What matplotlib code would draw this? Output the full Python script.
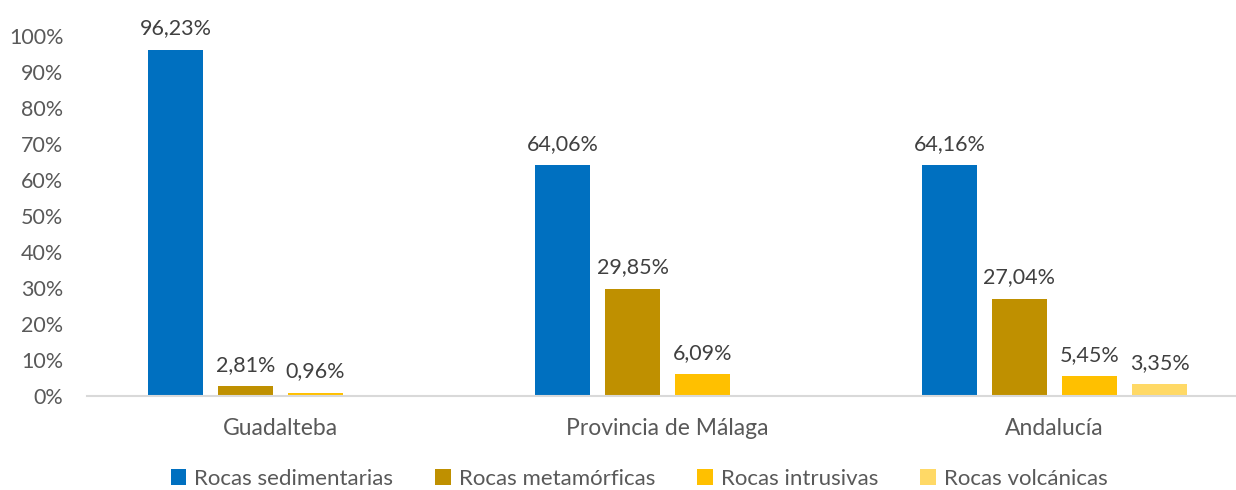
import numpy as np
import matplotlib
matplotlib.use("Agg")
import matplotlib.pyplot as plt
from matplotlib.patches import Patch

categories = ["Guadalteba", "Provincia de Málaga", "Andalucía"]
series_names = ["Rocas sedimentarias", "Rocas metamórficas", "Rocas intrusivas", "Rocas volcánicas"]
sedimentarias = [96.23, 64.06, 64.16]
metamorficas = [2.81, 29.85, 27.04]
intrusivas = [0.96, 6.09, 5.45]
volcanicas = [np.nan, np.nan, 3.35]
yticks = [0, 10, 20, 30, 40, 50, 60, 70, 80, 90, 100]

colors = ["#0070C0", "#BF9000", "#FFC000", "#FFD966"]
series = [sedimentarias, metamorficas, intrusivas, volcanicas]

plt.rcParams['font.family'] = ['Lato', 'DejaVu Sans']

W, H = 1236, 490
fig = plt.figure(figsize=(W / 100, H / 100), dpi=100)
ax = fig.add_axes([87 / W, (H - 396) / H, 1161 / W, 360 / H])

x = np.arange(len(categories))
slot = 70 / 387
bw = 55 / 387
for i, (vals, c) in enumerate(zip(series, colors)):
    pos = x + (i - 1.5) * slot
    v = np.array(vals, dtype=float)
    ax.bar(pos, v, width=bw, color=c, zorder=2)
    for px, pv in zip(pos, v):
        if np.isnan(pv):
            continue
        lbl = f"{pv:.2f}".replace('.', ',') + '%'
        ax.annotate(lbl, (px, pv), xytext=(0, 8), textcoords='offset points',
                    ha='center', va='bottom', fontsize=15.5, color='#404040',
                    annotation_clip=False)

ax.set_xlim(-0.5, 2.5)
ax.set_ylim(0, 100)
ax.set_yticks(yticks)
ax.set_yticklabels([f"{t}%" for t in yticks])
ax.set_xticks(x)
ax.set_xticklabels(categories)
ax.tick_params(axis='y', length=0, pad=17, labelsize=15.5, labelcolor='#595959')
ax.tick_params(axis='x', length=0, pad=16, labelsize=16.5, labelcolor='#595959')
for s in ['top', 'right', 'left']:
    ax.spines[s].set_visible(False)
ax.spines['bottom'].set_color('#D9D9D9')
ax.spines['bottom'].set_linewidth(1.5)

handles = [Patch(facecolor=c, edgecolor='none') for c in colors]
leg = fig.legend(handles, series_names, loc='center', bbox_to_anchor=(639 / W, (H - 479) / H),
                 ncol=4, frameon=False, fontsize=16, handlelength=0.7, handleheight=0.7,
                 handletextpad=0.35, columnspacing=1.9, labelcolor='#595959',
                 borderpad=0.1)

fig.savefig("out.png", dpi=100)
